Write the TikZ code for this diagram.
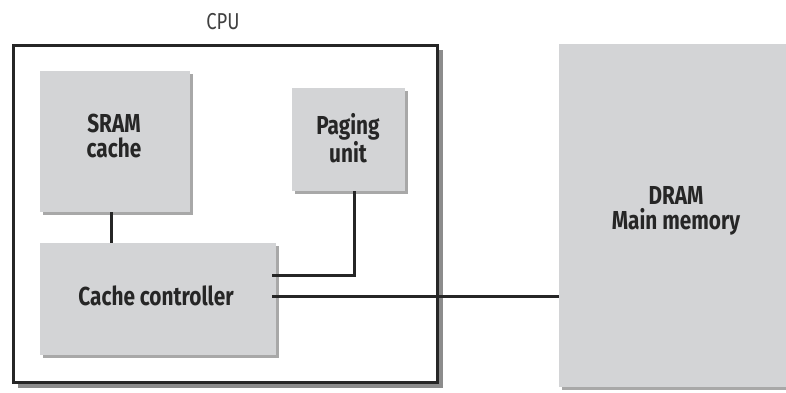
\documentclass[tikz,border=0pt]{standalone}
\usepackage{fontspec}
\setmainfont{Fira Sans}[FakeStretch=0.8]
\begin{document}
\begin{tikzpicture}[x=1pt,y=-1pt,
  blk/.style={fill=boxgray,draw=none,inner sep=0pt,anchor=north west},
  lbl/.style={font=\bfseries\fontsize{26}{25}\selectfont,text=black!85,align=center},
  wire/.style={line width=3pt,draw=black!85}]
\definecolor{boxgray}{HTML}{D3D4D6}
\definecolor{shad}{HTML}{A8A8A8}
\definecolor{cpushad}{HTML}{8C8C8C}
\useasboundingbox (0,0) rectangle (786,392);
% CPU box shadow
\fill[cpushad] (18,50) rectangle (443,388);
\fill[white] (12,44) rectangle (436,381);
\node[draw=black!85,line width=3pt,minimum width=424,minimum height=337,inner sep=0pt,anchor=north west] (cpu) at (12,44) {};
\node[font=\fontsize{23}{24}\selectfont,text=black!75] (cpul) at (223,22) {CPU};
% shadows of blocks
\fill[shad] (43,74) rectangle (193,215);
\fill[shad] (295,91) rectangle (408,194);
\fill[shad] (43,246) rectangle (279,358);
\fill[shad] (562,47) rectangle (786,390);
% blocks
\node[blk,minimum width=150,minimum height=141] (sram) at (40,71) {};
\node[lbl] (sramt) at (114,136) {SRAM\\cache};
\node[blk,minimum width=113,minimum height=103] (pag) at (292,88) {};
\node[lbl] (pagt) at (348,138) {Paging\\unit};
\node[blk,minimum width=236,minimum height=112] (cc) at (40,243) {};
\node[lbl] (cct) at (156,296) {Cache controller};
\node[blk,minimum width=228,minimum height=343] (dram) at (559,44) {};
\node[lbl] (dramt) at (676,211) {DRAM\\Main memory};
% wires
\coordinate (c1) at (111,212);
\coordinate (c2) at (111,243);
\draw[wire] (c1) -- (c2);
\coordinate (p1) at (354,191);
\coordinate (p2) at (354,275);
\coordinate (p3) at (272,275);
\draw[wire] (p1) -- (p2) -- (p3);
\coordinate (m1) at (272,296);
\coordinate (m2) at (559,296);
\draw[wire] (m1) -- (m2);
\end{tikzpicture}
\end{document}
